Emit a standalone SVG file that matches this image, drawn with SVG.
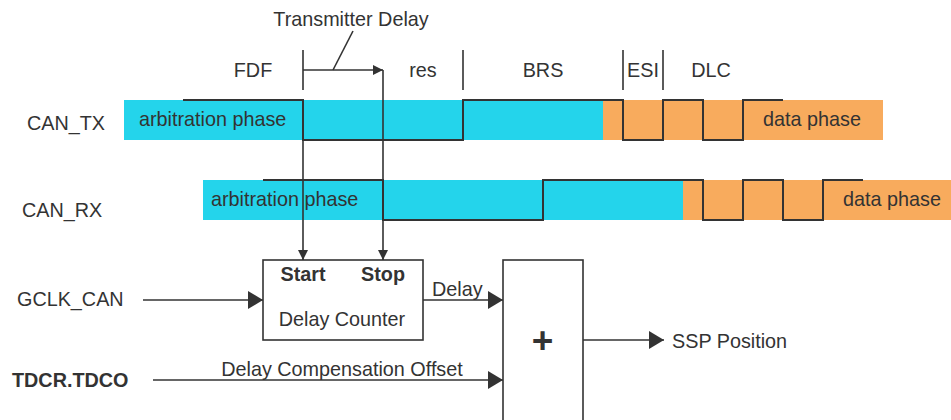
<svg xmlns="http://www.w3.org/2000/svg" width="951" height="420" viewBox="0 0 951 420">
<defs>
<style>
.t{font-family:"Liberation Sans",Arial,sans-serif;font-size:19.8px;fill:#333333}
.b{font-weight:bold}
.c{text-anchor:middle}
.ln{stroke:#333333;stroke-width:1.6;fill:none}
.sig{stroke:#333333;stroke-width:2;fill:none}
.cy{fill:#24D4EB}
.or{fill:#F8AB5D}
</style>
<marker id="ah" markerWidth="15" markerHeight="18" refX="15" refY="9" orient="auto" markerUnits="userSpaceOnUse"><path d="M0,0 L15,9 L0,18 Z" fill="#333333"/></marker>
<marker id="as" markerWidth="10" markerHeight="10" refX="10" refY="5" orient="auto" markerUnits="userSpaceOnUse"><path d="M0,0 L10,5 L0,10 Z" fill="#333333"/></marker>
</defs>
<rect width="951" height="420" fill="#ffffff"/>

<g id="can_tx">
<rect class="cy" x="124" y="100" width="479" height="40"/>
<rect class="or" x="603" y="100" width="280" height="40"/>
<path class="sig" d="M183,100 H303 V140 H463 V100 H623 V140 H663 V100 H703 V140 H743 V100 H783"/>
<text class="t" x="139" y="126">arbitration phase</text>
<text class="t" x="763" y="126">data phase</text>
<text class="t" x="27" y="130">CAN_TX</text>
</g>

<g id="can_rx">
<rect class="cy" x="203" y="180" width="480" height="40"/>
<rect class="or" x="683" y="180" width="268" height="40"/>
<path class="sig" d="M263,180 H383 V220 H543 V180 H703 V220 H743 V180 H783 V220 H823 V180 H863"/>
<text class="t" x="211" y="206">arbitration phase</text>
<text class="t" x="843" y="206">data phase</text>
<text class="t" x="22" y="217">CAN_RX</text>
</g>

<g id="fields">
<path class="ln" d="M303,50 V90 M463,50 V90 M623,50 V90 M663,50 V90"/>
<text class="t c" x="253" y="77">FDF</text>
<text class="t c" x="423" y="77">res</text>
<text class="t c" x="543" y="77">BRS</text>
<text class="t c" x="643" y="77">ESI</text>
<text class="t c" x="711" y="77">DLC</text>
</g>

<g id="transmitter_delay">
<text class="t c" x="351" y="26">Transmitter Delay</text>
<path class="ln" d="M333,70 L353,31"/>
</g>

<g id="delay_counter">
<rect class="ln" x="263" y="260" width="160" height="80" stroke-width="2"/>
<text class="t b c" x="303" y="281">Start</text>
<text class="t b c" x="383" y="281">Stop</text>
<text class="t c" x="342" y="326">Delay Counter</text>
</g>

<g id="adder">
<rect class="ln" x="503" y="260" width="80" height="170" stroke-width="2"/>
<text class="t b c" x="542.5" y="353" style="font-size:37px">+</text>
</g>

<g id="labels">
<text class="t" x="17" y="306">GCLK_CAN</text>
<text class="t b" x="12" y="387">TDCR.TDCO</text>
<text class="t" x="432" y="296">Delay</text>
<text class="t c" x="342" y="376">Delay Compensation Offset</text>
<text class="t" x="672" y="348">SSP Position</text>
</g>

<g id="connectors">
<path class="ln" d="M303,70 H383" marker-end="url(#as)"/>
<path class="ln" d="M303,140 V260" marker-end="url(#as)"/>
<path class="ln" d="M383,70 V260" marker-end="url(#as)"/>
<path class="ln" d="M143,300 H263" marker-end="url(#ah)"/>
<path class="ln" d="M423,300 H503" marker-end="url(#ah)"/>
<path class="ln" d="M153,380 H503" marker-end="url(#ah)"/>
<path class="ln" d="M583,340 H664" marker-end="url(#ah)"/>
</g>
</svg>
